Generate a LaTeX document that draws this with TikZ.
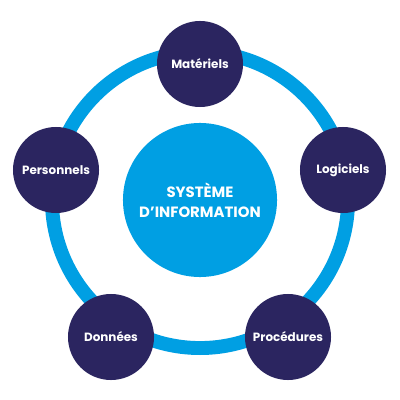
\documentclass[tikz,border=0pt]{standalone}
\usepackage{fontspec}
\setmainfont{Poppins}
\usetikzlibrary{positioning}

\definecolor{skyblue}{HTML}{009FE3}
\definecolor{navy}{HTML}{2B2560}

\begin{document}
\begin{tikzpicture}[
    x=0.025cm, y=-0.025cm,
    hub/.style={circle, fill=skyblue, minimum size=3.85cm, inner sep=0pt, align=center,
                text=white, font=\fontsize{10.6}{14}\selectfont\bfseries},
    part/.style={circle, fill=navy, minimum size=2.15cm, inner sep=0pt,
                 text=white, font=\fontsize{8.5}{10}\selectfont\bfseries},
    ring/.style={draw=skyblue, line width=9.9pt}
]
\useasboundingbox[fill=white] (0,0) rectangle (400,400);

%=== centre and ring ===
\coordinate (O) at (200,200);
\draw[ring] (O) circle (3.7cm);
\node[hub] (SI) at (O) {SYSTÈME\\D’INFORMATION};

%=== the five components ===
\node[part] (mat) at (200,64)  {Matériels};
\node[part] (log) at (343,170) {Logiciels};
\node[part] (pro) at (288,337) {Procédures};
\node[part] (don) at (111,337) {Données};
\node[part] (per) at (56,170)  {Personnels};

\end{tikzpicture}
\end{document}
